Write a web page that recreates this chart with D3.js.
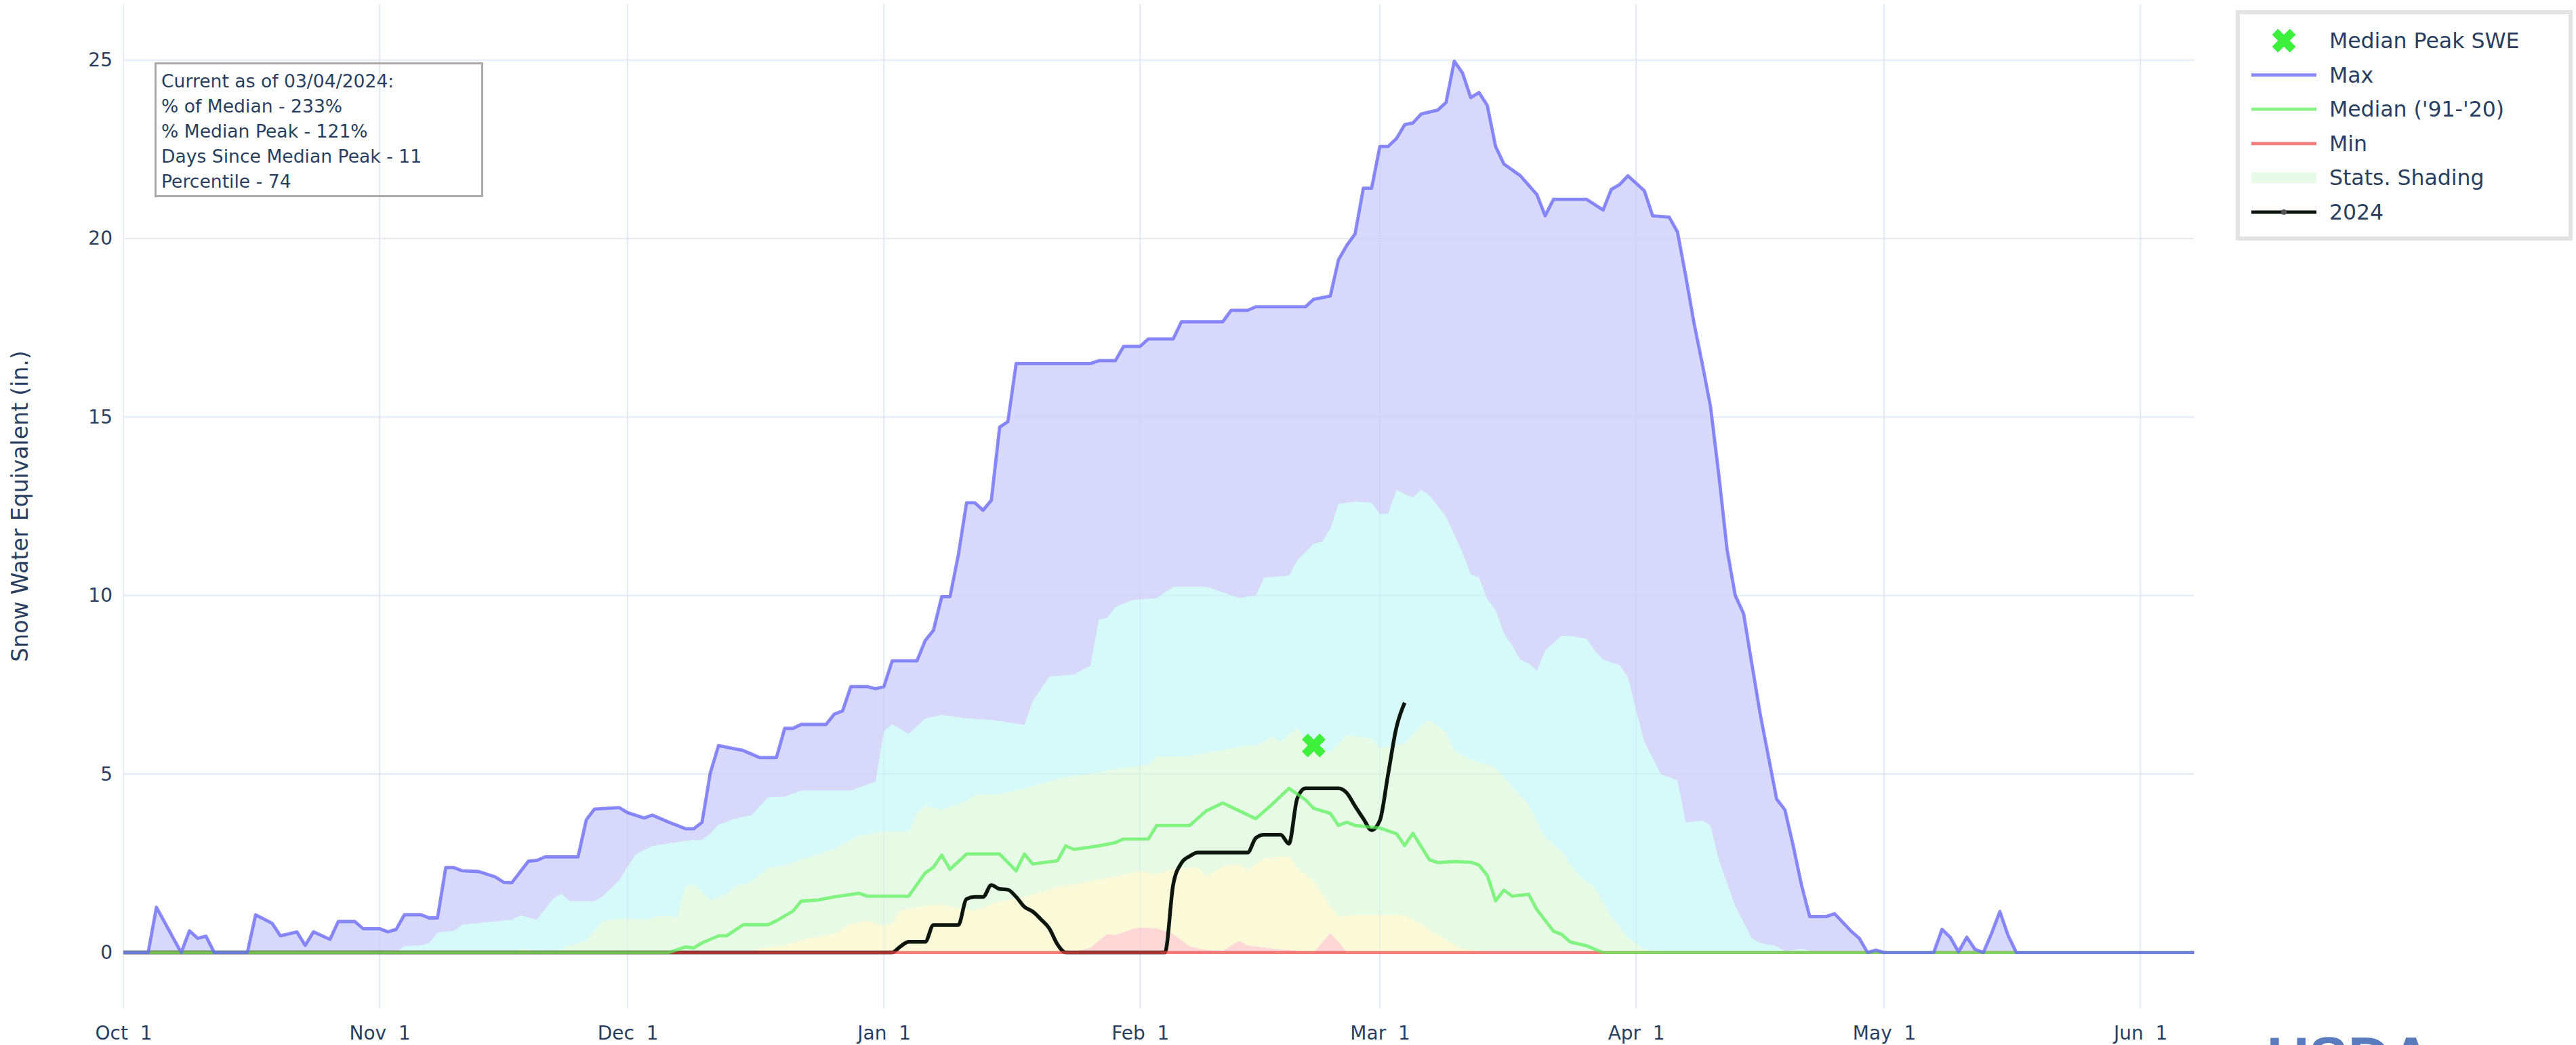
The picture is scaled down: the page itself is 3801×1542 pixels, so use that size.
<!DOCTYPE html>
<html>
<head>
<meta charset="utf-8">
<script src="https://cdn.jsdelivr.net/npm/d3@7"></script>
<style>
  html, body { margin: 0; padding: 0; background: #fff; }
  svg text { font-family: "DejaVu Sans", Verdana, sans-serif; fill: #2a3f5f; }
</style>
</head>
<body>
<svg id="chart" width="3801" height="1542"></svg>
<script>
// SWE readings, "MM-DD" of the 2024 water year -> inches
const maxSWE = [["10-01",0],["10-04",0],["10-05",1.27],["10-08",0],["10-09",0.61],["10-10",0.40],["10-11",0.46],["10-12",0],
  ["10-16",0],["10-17",1.06],["10-19",0.82],["10-20",0.47],["10-22",0.58],["10-23",0.20],["10-24",0.58],["10-26",0.37],
  ["10-27",0.87],["10-29",0.87],["10-30",0.67],["11-01",0.67],["11-02",0.58],["11-03",0.65],["11-04",1.06],["11-06",1.06],
  ["11-07",0.97],["11-08",0.97],["11-09",2.38],["11-10",2.38],["11-11",2.29],["11-13",2.27],["11-15",2.12],["11-16",1.97],
  ["11-17",1.96],["11-19",2.56],["11-20",2.58],["11-21",2.68],["11-25",2.68],["11-26",3.72],["11-27",4.02],["11-30",4.06],
  ["12-01",3.92],["12-03",3.77],["12-04",3.85],["12-06",3.65],["12-08",3.47],["12-09",3.47],["12-10",3.65],["12-11",5.03],
  ["12-12",5.80],["12-13",5.75],["12-15",5.66],["12-17",5.46],["12-19",5.46],["12-20",6.28],["12-21",6.28],["12-22",6.39],
  ["12-25",6.39],["12-26",6.68],["12-27",6.77],["12-28",7.45],["12-30",7.45],["12-31",7.39],["01-01",7.45],["01-02",8.17],
  ["01-05",8.17],["01-06",8.74],["01-07",9.03],["01-08",9.97],["01-09",9.97],["01-10",11.13],["01-11",12.60],["01-12",12.60],
  ["01-13",12.39],["01-14",12.67],["01-15",14.72],["01-16",14.87],["01-17",16.50],["01-26",16.50],["01-27",16.58],["01-29",16.58],
  ["01-30",16.98],["02-01",16.98],["02-02",17.19],["02-05",17.19],["02-06",17.67],["02-11",17.67],["02-12",17.99],["02-14",17.99],
  ["02-15",18.09],["02-21",18.09],["02-22",18.30],["02-24",18.39],["02-25",19.41],["02-26",19.81],["02-27",20.13],["02-28",21.41],
  ["02-29",21.41],["03-01",22.58],["03-02",22.58],["03-03",22.80],["03-04",23.19],["03-05",23.24],["03-06",23.49],["03-08",23.60],
  ["03-09",23.81],["03-10",24.97],["03-11",24.64],["03-12",23.95],["03-13",24.09],["03-14",23.73],["03-15",22.58],["03-16",22.09],
  ["03-18",21.76],["03-20",21.23],["03-21",20.64],["03-22",21.10],["03-26",21.10],["03-28",20.80],["03-29",21.38],["03-30",21.51],
  ["03-31",21.76],["04-02",21.34],["04-03",20.64],["04-05",20.60],["04-06",20.19],["04-07",18.96],["04-08",17.64],["04-09",16.50],
  ["04-10",15.30],["04-11",13.40],["04-12",11.30],["04-13",10.00],["04-14",9.50],["04-15",8.09],["04-16",6.70],["04-17",5.50],
  ["04-18",4.30],["04-19",4.00],["04-20",3.00],["04-21",1.90],["04-22",1.01],["04-24",1.01],["04-25",1.09],["04-26",0.85],
  ["04-27",0.60],["04-28",0.40],["04-29",0],["04-30",0.07],["05-01",0],["05-07",0],["05-08",0.65],["05-09",0.43],["05-10",0.02],
  ["05-11",0.43],["05-12",0.09],["05-13",0],["05-14",0.54],["05-15",1.15],["05-16",0.48],["05-17",0],["06-08",0]];

const p90SWE = [["10-01",0],["11-03",0],["11-04",0.18],["11-06",0.20],["11-07",0.27],["11-08",0.56],["11-10",0.61],["11-11",0.78],
  ["11-14",0.85],["11-17",0.92],["11-18",1.04],["11-20",0.92],["11-22",1.51],["11-23",1.65],["11-24",1.44],["11-27",1.44],
  ["11-28",1.58],["11-30",2.03],["12-01",2.41],["12-02",2.75],["12-04",2.99],["12-06",3.06],["12-08",3.13],["12-10",3.16],
  ["12-11",3.34],["12-12",3.58],["12-14",3.75],["12-16",3.85],["12-17",4.10],["12-18",4.35],["12-20",4.37],["12-22",4.54],
  ["12-28",4.54],["12-31",4.79],["01-01",6.20],["01-02",6.40],["01-04",6.13],["01-06",6.55],["01-08",6.66],["01-11",6.56],
  ["01-14",6.52],["01-18",6.38],["01-19",7.04],["01-21",7.73],["01-24",7.79],["01-26",8.04],["01-27",9.33],["01-28",9.37],
  ["01-29",9.68],["01-31",9.87],["02-03",9.93],["02-05",10.25],["02-09",10.25],["02-13",9.93],["02-15",10.00],["02-16",10.50],
  ["02-19",10.56],["02-20",10.99],["02-22",11.46],["02-23",11.50],["02-24",11.87],["02-25",12.57],["02-27",12.63],["02-29",12.60],
  ["03-01",12.28],["03-02",12.30],["03-03",12.95],["03-05",12.75],["03-06",12.96],["03-07",12.80],["03-09",12.22],["03-10",11.70],
  ["03-11",11.20],["03-12",10.60],["03-13",10.50],["03-14",9.90],["03-15",9.60],["03-16",8.95],["03-17",8.60],["03-18",8.20],
  ["03-19",8.10],["03-20",7.90],["03-21",8.46],["03-23",8.87],["03-24",8.87],["03-26",8.79],["03-27",8.46],["03-28",8.20],
  ["03-30",8.05],["03-31",7.72],["04-01",6.80],["04-02",5.90],["04-04",5.00],["04-06",4.83],["04-07",3.64],["04-09",3.70],
  ["04-10",3.56],["04-11",2.60],["04-13",1.30],["04-15",0.40],["04-16",0.27],["04-18",0.18],["04-19",0.03],["04-21",0.10],
  ["04-23",0],["06-08",0]];

const p70SWE = [["10-01",0],["11-17",0],["11-18",0.10],["11-22",0.02],["11-24",0.20],["11-26",0.33],["11-28",0.89],["12-01",0.96],
  ["12-03",0.92],["12-05",1.03],["12-07",1.00],["12-08",1.85],["12-09",1.92],["12-10",1.71],["12-11",1.47],["12-13",1.65],
  ["12-14",1.85],["12-16",1.99],["12-18",2.37],["12-20",2.44],["12-22",2.61],["12-24",2.75],["12-26",2.90],["12-29",3.27],
  ["01-01",3.40],["01-04",3.40],["01-05",3.90],["01-06",4.12],["01-08",4.00],["01-11",4.25],["01-12",4.41],["01-15",4.44],
  ["01-18",4.60],["01-21",4.79],["01-23",4.92],["01-26",5.01],["01-29",5.14],["02-02",5.26],["02-03",5.49],["02-06",5.49],
  ["02-08",5.55],["02-11",5.68],["02-14",5.80],["02-15",5.80],["02-17",6.05],["02-18",5.90],["02-20",6.28],["02-21",5.99],
  ["02-22",5.80],["02-24",5.61],["02-26",6.09],["02-29",5.99],["03-01",5.74],["03-04",5.85],["03-06",6.35],["03-07",6.52],
  ["03-09",6.18],["03-10",5.65],["03-12",5.40],["03-15",5.20],["03-17",4.63],["03-19",4.14],["03-21",3.23],["03-23",2.82],
  ["03-25",2.16],["03-27",1.83],["03-29",1.01],["03-31",0.43],["04-02",0.10],["04-04",0],["06-08",0]];

const p30SWE = [["10-01",0],["12-16",0],["12-17",0.13],["12-20",0.20],["12-23",0.41],["12-26",0.53],["12-28",0.80],["12-30",0.90],
  ["01-01",0.74],["01-02",0.83],["01-03",1.18],["01-06",1.31],["01-08",1.34],["01-10",1.25],["01-12",1.18],["01-15",1.44],
  ["01-18",1.56],["01-20",1.69],["01-22",1.85],["01-24",1.91],["01-26",2.01],["01-29",2.13],["02-01",2.29],["02-03",2.20],
  ["02-05",2.35],["02-08",2.39],["02-09",2.13],["02-11",2.42],["02-13",2.48],["02-14",2.32],["02-16",2.64],["02-19",2.70],
  ["02-20",2.39],["02-22",2.01],["02-24",1.31],["02-25",1.00],["02-27",1.06],["03-03",1.06],["03-04",1.05],["03-06",0.80],
  ["03-08",0.50],["03-10",0.23],["03-11",0.10],["03-13",0.03],["03-14",0],["06-08",0]];

const p10SWE = [["10-01",0],["01-23",0],["01-24",0.01],["01-26",0.14],["01-28",0.52],["01-29",0.49],["01-31",0.65],["02-01",0.70],
  ["02-03",0.68],["02-05",0.52],["02-07",0.17],["02-09",0.08],["02-11",0.05],["02-13",0.33],["02-14",0.20],["02-17",0.11],
  ["02-20",0.05],["02-22",0],["02-24",0.55],["02-25",0.30],["02-26",0],["06-08",0]];

const minSWE = [["10-01",0],["06-08",0]];

const medianSWE = [["10-01",0],["12-06",0],["12-08",0.16],["12-09",0.13],["12-10",0.27],["12-12",0.47],["12-13",0.47],["12-15",0.78],
  ["12-18",0.78],["12-19",0.89],["12-21",1.16],["12-22",1.44],["12-24",1.47],["12-26",1.56],["12-29",1.66],["12-30",1.58],
  ["01-04",1.58],["01-06",2.23],["01-07",2.39],["01-08",2.73],["01-09",2.33],["01-11",2.76],["01-15",2.76],["01-17",2.29],
  ["01-18",2.76],["01-19",2.48],["01-22",2.57],["01-23",2.99],["01-24",2.89],["01-27",2.99],["01-29",3.08],["01-30",3.18],
  ["02-02",3.18],["02-03",3.56],["02-07",3.56],["02-09",3.97],["02-11",4.19],["02-13",3.97],["02-15",3.75],["02-17",4.16],
  ["02-19",4.60],["02-21",4.28],["02-22",4.04],["02-24",3.90],["02-25",3.56],["02-26",3.65],["02-27",3.56],["03-01",3.49],
  ["03-03",3.33],["03-04",3.00],["03-05",3.34],["03-07",2.60],["03-08",2.52],["03-10",2.55],["03-12",2.53],["03-13",2.45],
  ["03-14",2.16],["03-15",1.45],["03-16",1.75],["03-17",1.58],["03-19",1.63],["03-20",1.20],["03-22",0.60],["03-23",0.51],
  ["03-24",0.30],["03-26",0.19],["03-28",0],["06-08",0]];

const wy2024 = [["10-01",0],["01-02",0],["01-03",0.17],["01-04",0.30],["01-06",0.30],["01-07",0.77],["01-10",0.77],["01-11",1.50],
  ["01-12",1.56],["01-13",1.56],["01-14",1.89],["01-15",1.78],["01-16",1.76],["01-17",1.56],["01-18",1.28],["01-19",1.15],
  ["01-20",0.93],["01-21",0.68],["01-22",0.23],["01-23",0],["02-04",0],["02-05",1.90],["02-06",2.51],["02-07",2.70],
  ["02-08",2.80],["02-14",2.80],["02-15",3.21],["02-16",3.30],["02-18",3.30],["02-19",3.05],["02-20",4.31],["02-21",4.60],
  ["02-25",4.60],["02-26",4.47],["02-27",4.10],["02-28",3.75],["02-29",3.43],["03-01",3.70],["03-02",5.00],["03-03",6.30],
  ["03-04",7.00]];

const medianPeak = [["02-22", 5.8]];

const xTickDays = ["10-01","11-01","12-01","01-01","02-01","03-01","04-01","05-01","06-01"];
const yTickValues = [0, 5, 10, 15, 20, 25];
const legendLabels = ["Median Peak SWE", "Max", "Median ('91-'20)", "Min", "Stats. Shading", "2024"];
const infoLines = ["Current as of 03/04/2024:", "% of Median - 233%", "% Median Peak - 121%",
  "Days Since Median Peak - 11", "Percentile - 74"];

const parseDay = s => {
    const [m, d] = s.split("-").map(Number);
    return new Date(Date.UTC(m >= 10 ? 2023 : 2024, m - 1, d));
};

const plot = { left: 182, right: 3237.5, top: 6, bottom: 1488 };

const svg = d3.select("#chart");

const x = d3.scaleUtc()
    .domain([parseDay("10-01"), new Date(Date.UTC(2024, 5, 7, 12))])
    .range([plot.left, plot.right]);

const y = d3.scaleLinear()
    .domain([0, 25])
    .range([1405.6, 88.6]);

svg.append("defs").append("clipPath")
    .attr("id", "plotClip")
    .append("rect")
    .attr("x", plot.left)
    .attr("y", plot.top)
    .attr("width", plot.right - plot.left)
    .attr("height", plot.bottom - plot.top);

const gridColor = "#eef2f9";

// gridlines under everything
const grid = svg.append("g");
grid.selectAll(".hgrid")
    .data(yTickValues)
    .enter()
    .append("line")
    .attr("x1", plot.left).attr("x2", plot.right)
    .attr("y1", d => y(d)).attr("y2", d => y(d))
    .attr("stroke", gridColor).attr("stroke-width", 2.2);
grid.selectAll(".vgrid")
    .data(xTickDays)
    .enter()
    .append("line")
    .attr("x1", d => x(parseDay(d))).attr("x2", d => x(parseDay(d)))
    .attr("y1", plot.top).attr("y2", plot.bottom)
    .attr("stroke", gridColor).attr("stroke-width", 2.2);

const body = svg.append("g").attr("clip-path", "url(#plotClip)");

// layered shading, highest band first
const area = d3.area()
    .x(d => x(parseDay(d[0])))
    .y0(y(0))
    .y1(d => y(d[1]));

const bands = [
    { data: maxSWE, color: "#d8d8fa" },
    { data: p90SWE, color: "#d6fafa" },
    { data: p70SWE, color: "#e6fae6" },
    { data: p30SWE, color: "#fafad8" },
    { data: p10SWE, color: "#ffd7d7" }
];

body.selectAll(".band")
    .data(bands)
    .enter()
    .append("path")
    .attr("d", d => area(d.data))
    .attr("fill", d => d.color);

// faint gridlines over the shading, like the translucent fills in the original
const overGrid = body.append("g").attr("stroke", "#a8bede").attr("stroke-opacity", 0.12).attr("stroke-width", 2.2);
overGrid.selectAll(".h")
    .data(yTickValues.slice(1))
    .enter()
    .append("line")
    .attr("x1", plot.left).attr("x2", plot.right)
    .attr("y1", d => y(d)).attr("y2", d => y(d));
overGrid.selectAll(".v")
    .data(xTickDays)
    .enter()
    .append("line")
    .attr("x1", d => x(parseDay(d))).attr("x2", d => x(parseDay(d)))
    .attr("y1", plot.top).attr("y2", plot.bottom);

const line = d3.line()
    .x(d => x(parseDay(d[0])))
    .y(d => y(d[1]));

const smoothLine = d3.line()
    .x(d => x(parseDay(d[0])))
    .y(d => y(d[1]))
    .curve(d3.curveMonotoneX);

body.append("path")
    .attr("d", smoothLine(wy2024))
    .attr("fill", "none")
    .attr("stroke", "#0c160c")
    .attr("stroke-width", 5.5)
    .attr("stroke-linejoin", "round");

const statLines = [
    { data: minSWE, color: "rgb(240,70,70)", opacity: 0.7 },
    { data: medianSWE, color: "rgb(90,240,90)", opacity: 0.72 },
    { data: maxSWE, color: "rgb(105,105,248)", opacity: 0.78 }
];

body.selectAll(".stat")
    .data(statLines)
    .enter()
    .append("path")
    .attr("d", d => line(d.data))
    .attr("fill", "none")
    .attr("stroke", d => d.color)
    .attr("stroke-opacity", d => d.opacity)
    .attr("stroke-width", 4.8)
    .attr("stroke-linejoin", "round");

const xMark = d3.symbol().type(d3.symbolCross).size(760);

body.selectAll(".peak")
    .data(medianPeak)
    .enter()
    .append("path")
    .attr("d", xMark)
    .attr("transform", d => `translate(${x(parseDay(d[0]))},${y(d[1])}) rotate(45)`)
    .attr("fill", "#3cf03c");

// axes
const xAxis = d3.axisBottom(x)
    .tickValues(xTickDays.map(parseDay))
    .tickFormat(d3.utcFormat("%b %e"))
    .tickSize(0)
    .tickPadding(0);

svg.append("g")
    .attr("transform", "translate(0,1534)")
    .call(xAxis)
    .call(g => g.select(".domain").remove())
    .call(g => g.selectAll("text")
        .attr("dy", 0)
        .attr("y", 0)
        .style("font-size", "28px")
        .style("white-space", "pre")
        .attr("fill", "#2a3f5f"));

const yAxis = d3.axisLeft(y)
    .tickValues(yTickValues)
    .tickSize(0)
    .tickPadding(0);

svg.append("g")
    .attr("transform", "translate(166,0)")
    .call(yAxis)
    .call(g => g.select(".domain").remove())
    .call(g => g.selectAll("text")
        .style("font-size", "28px")
        .attr("fill", "#2a3f5f"));

svg.append("text")
    .attr("transform", `translate(41,${(plot.top + plot.bottom) / 2}) rotate(-90)`)
    .attr("text-anchor", "middle")
    .style("font-size", "33px")
    .text("Snow Water Equivalent (in.)");

// info box
const info = svg.append("g");
info.append("rect")
    .attr("x", 229.5).attr("y", 93.5)
    .attr("width", 482).attr("height", 196)
    .attr("fill", "none")
    .attr("stroke", "#aaaaaa")
    .attr("stroke-width", 3);
info.selectAll("text")
    .data(infoLines)
    .enter()
    .append("text")
    .attr("x", 238)
    .attr("y", (d, i) => 129 + i * 37)
    .style("font-size", "26.6px")
    .style("white-space", "pre")
    .text(d => d);

// legend
const legend = svg.append("g");
legend.append("rect")
    .attr("x", 3302).attr("y", 18)
    .attr("width", 491).attr("height", 334)
    .attr("fill", "#fff")
    .attr("stroke", "#e3e3e3")
    .attr("stroke-width", 6);

const rowY = i => 60 + i * 50.6;

legend.selectAll(".label")
    .data(legendLabels)
    .enter()
    .append("text")
    .attr("x", 3437)
    .attr("y", (d, i) => rowY(i) + 11)
    .style("font-size", "31.5px")
    .text(d => d);

legend.append("path")
    .attr("d", xMark)
    .attr("transform", `translate(3370,${rowY(0)}) rotate(45)`)
    .attr("fill", "#3cf03c");

const legendLines = [
    { row: 1, color: "rgb(105,105,248)", opacity: 0.78 },
    { row: 2, color: "rgb(90,240,90)", opacity: 0.72 },
    { row: 3, color: "rgb(240,70,70)", opacity: 0.7 },
    { row: 5, color: "#0c160c", opacity: 1 }
];
legend.selectAll(".lline")
    .data(legendLines)
    .enter()
    .append("line")
    .attr("x1", 3322).attr("x2", 3418)
    .attr("y1", d => rowY(d.row)).attr("y2", d => rowY(d.row))
    .attr("stroke", d => d.color)
    .attr("stroke-opacity", d => d.opacity)
    .attr("stroke-width", 4.8);

legend.append("circle")
    .attr("cx", 3370).attr("cy", rowY(5)).attr("r", 4)
    .attr("fill", "#555");

legend.append("rect")
    .attr("x", 3322).attr("y", rowY(4) - 8)
    .attr("width", 96).attr("height", 16)
    .attr("fill", "#e8fbe8");

// logo text, cut by the bottom edge as in the original
svg.append("text")
    .attr("x", 3345)
    .attr("y", 1590)
    .style("font-family", "'Liberation Sans', sans-serif")
    .style("font-weight", "bold")
    .style("font-size", "86px")
    .style("fill", "#5a7cbe")
    .text("USDA");
</script>
</body>
</html>
